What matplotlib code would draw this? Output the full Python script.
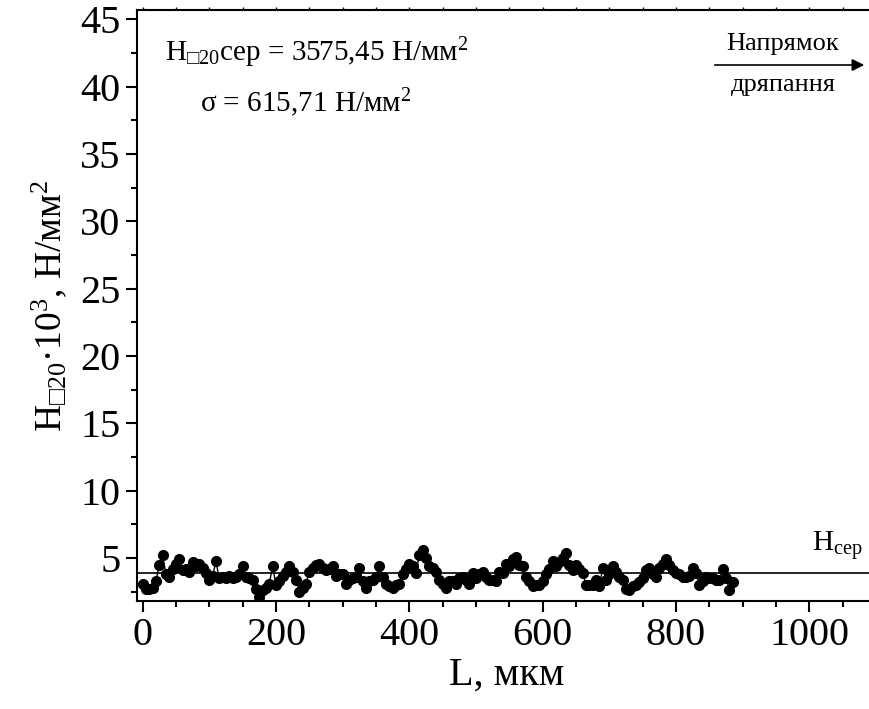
import matplotlib
matplotlib.use("Agg")
import matplotlib.pyplot as plt
from matplotlib.ticker import MultipleLocator

plt.rcParams['font.family'] = ['Liberation Serif', 'DejaVu Serif']
plt.rcParams['mathtext.fontset'] = 'custom'
plt.rcParams['mathtext.rm'] = 'Liberation Serif'
plt.rcParams['mathtext.it'] = 'Liberation Serif:italic'
plt.rcParams['mathtext.bf'] = 'Liberation Serif:bold'
plt.rcParams['mathtext.fallback'] = 'stix'

# довжина дряпання, мкм (крок 5 мкм)
L_start = 0
L_step = 5
# мікротвердість, 10^3 Н/мм^2
H20 = [3.1, 2.7, 2.7, 2.8, 3.3, 4.5, 5.2, 3.8, 3.6, 4.2,
       4.6, 4.9, 4.1, 4.2, 4.0, 4.7, 4.4, 4.6, 4.3, 3.9,
       3.4, 3.7, 4.75, 3.5, 3.6, 3.5, 3.7, 3.5, 3.6, 3.8,
       4.4, 3.6, 3.5, 3.4, 2.7, 2.15, 2.6, 2.8, 3.1, 4.4,
       3.0, 3.3, 3.7, 4.0, 4.4, 4.0, 3.4, 2.5, 2.8, 3.1,
       4.0, 4.3, 4.5, 4.6, 4.3, 4.1, 4.2, 4.4, 3.7, 3.8,
       3.8, 3.1, 3.4, 3.5, 3.6, 4.3, 3.3, 2.75, 3.3, 3.4,
       3.6, 4.4, 3.6, 3.1, 2.9, 2.75, 3.0, 3.1, 3.8, 4.2,
       4.6, 4.4, 3.9, 5.25, 5.6, 5.0, 4.4, 4.3, 4.0, 3.4,
       3.1, 2.8, 3.3, 3.3, 3.1, 3.5, 3.6, 3.4, 3.1, 3.9,
       3.5, 3.8, 4.0, 3.6, 3.4, 3.4, 3.3, 4.0, 3.9, 4.6,
       4.4, 4.9, 5.1, 4.5, 4.4, 3.6, 3.3, 2.9, 3.0, 3.0,
       3.3, 3.8, 4.2, 4.75, 4.4, 4.7, 5.0, 5.4, 4.5, 4.1,
       4.5, 4.2, 3.9, 3.0, 3.0, 3.0, 3.4, 2.9, 4.25, 3.4,
       3.8, 4.4, 4.0, 3.6, 3.4, 2.7, 2.65, 2.9, 3.0, 3.2,
       3.5, 4.1, 4.25, 3.8, 3.6, 4.25, 4.6, 4.9, 4.5, 4.1,
       3.9, 3.8, 3.6, 3.6, 3.7, 4.25, 3.9, 3.0, 3.3, 3.6,
       3.5, 3.5, 3.4, 3.4, 4.2, 3.5, 2.65, 3.25]
L = [L_start + L_step * i for i in range(len(H20))]
H_mean_line = 3.9

fig = plt.figure(figsize=(8.7, 7.09), dpi=100)
ax = fig.add_axes([0.157, 0.152, 0.85, 0.834])

ax.plot(L, H20, color='black', lw=1.0, marker='o', ms=7,
        markerfacecolor='black', markeredgecolor='black')
ax.axhline(H_mean_line, color='black', lw=1.2)

ax.set_xlim(-9, 1100)
ax.set_ylim(1.8, 45.7)
ax.xaxis.set_major_locator(MultipleLocator(200))
ax.xaxis.set_minor_locator(MultipleLocator(50))
ax.yaxis.set_major_locator(MultipleLocator(5))
ax.yaxis.set_minor_locator(MultipleLocator(2.5))
ax.set_yticks([5, 10, 15, 20, 25, 30, 35, 40, 45])
ax.tick_params(which='major', length=8, width=1.5, labelsize=29, direction='out')
ax.tick_params(which='minor', length=4, width=1.5, direction='out')
ax.tick_params(axis='x', which='both', top=True)
ax.tick_params(axis='x', which='major', length=8)
for sp in ax.spines.values():
    sp.set_linewidth(1.5)
ax.spines['right'].set_visible(False)
for t in ax.xaxis.get_ticklines(minor=False)[1::2] + ax.xaxis.get_ticklines(minor=True)[1::2]:
    t.set_markersize(2)
    t.set_markeredgewidth(1)

ax.set_xlabel('L, мкм', fontsize=29, labelpad=2)
ax.set_ylabel('H$_{\\mathrm{□20}}$·10$^{3}$, Н/мм$^{2}$', fontsize=27, labelpad=8)

W, Hh = 870, 709


def fx(px):
    return px / W


def fy(py):
    return 1 - py / Hh


fig.text(fx(165), fy(53), 'H$_{\\mathrm{□20}}$сер = 3575,45 Н/мм$^{2}$',
         fontsize=21, va='center', ha='left')
fig.text(fx(200), fy(103), 'σ = 615,71 Н/мм$^{2}$',
         fontsize=21, va='center', ha='left')

fig.text(fx(783), fy(44), 'Напрямок', fontsize=19, ha='center', va='center')
fig.text(fx(783), fy(85), 'дряпання', fontsize=19, ha='center', va='center')
ax.annotate('', xy=(fx(867), fy(65)), xytext=(fx(712), fy(65)),
            xycoords='figure fraction', textcoords='figure fraction',
            arrowprops=dict(arrowstyle='-|>', color='black', lw=1.2,
                            mutation_scale=18))

fig.text(fx(812), fy(545), 'H$_{\\mathrm{сер}}$', fontsize=21,
         ha='left', va='center')

fig.savefig('out.png', dpi=100)
